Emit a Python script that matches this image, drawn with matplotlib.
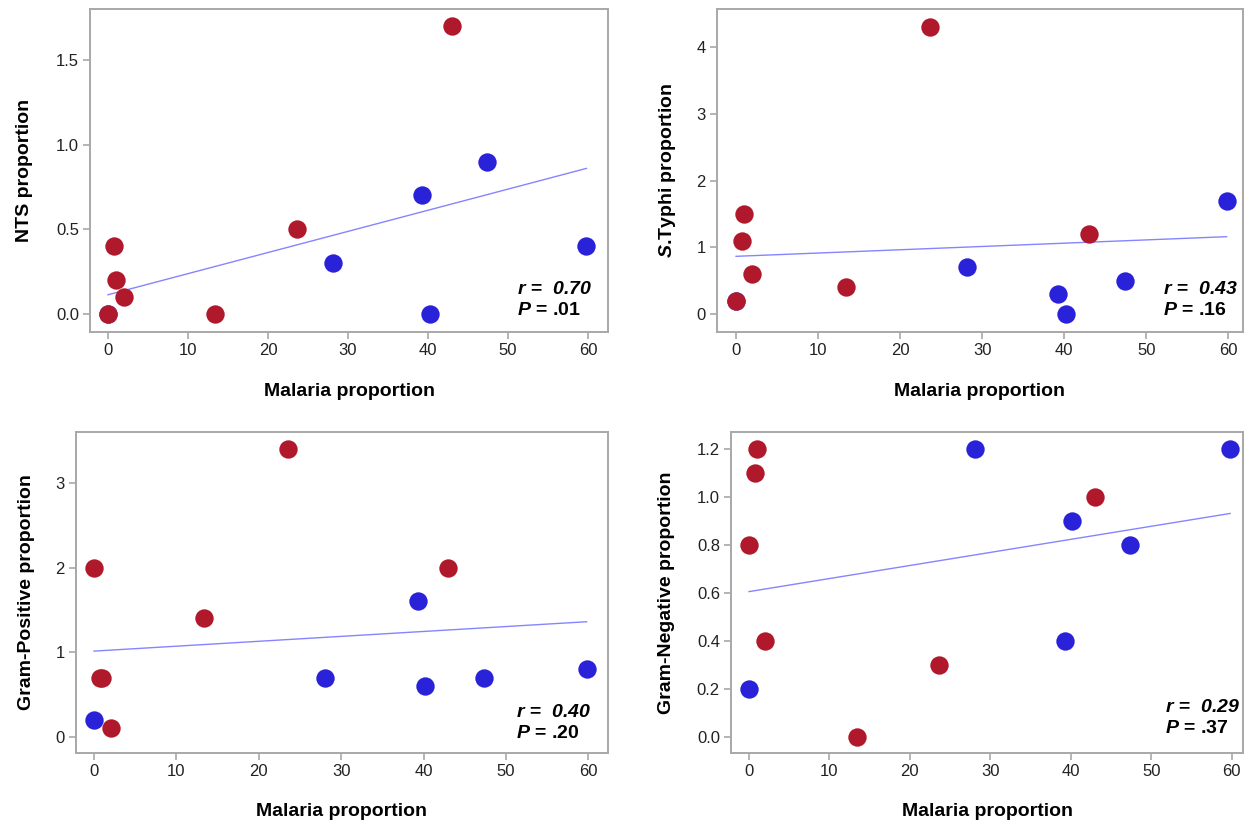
import numpy as np
import matplotlib
matplotlib.use("Agg")
import matplotlib.pyplot as plt

plt.rcParams['font.family'] = ['Liberation Sans', 'DejaVu Sans']
plt.rcParams['mathtext.fontset'] = 'custom'
plt.rcParams['mathtext.it'] = 'Liberation Sans:italic:bold'
plt.rcParams['mathtext.rm'] = 'Liberation Sans:italic:bold'
plt.rcParams['mathtext.bf'] = 'Liberation Sans:italic:bold'
plt.rcParams['mathtext.default'] = 'rm'

# Malaria proportion per site (red group, blue group)
malaria_red = [0.0, 0.7, 1.0, 2.0, 13.4, 23.6, 43.0]
malaria_blue = [0.0, 28.1, 39.3, 40.2, 47.4, 59.8]

nts_red = [0.0, 0.4, 0.2, 0.1, 0.0, 0.5, 1.7]
nts_blue = [0.0, 0.3, 0.7, 0.0, 0.9, 0.4]

typhi_red = [0.2, 1.1, 1.5, 0.6, 0.4, 4.3, 1.2]
typhi_blue = [0.2, 0.7, 0.3, 0.0, 0.5, 1.7]

gpos_red = [2.0, 0.7, 0.7, 0.1, 1.4, 3.4, 2.0]
gpos_blue = [0.2, 0.7, 1.6, 0.6, 0.7, 0.8]

gneg_red = [0.8, 1.1, 1.2, 0.4, 0.0, 0.3, 1.0]
gneg_blue = [0.2, 1.2, 0.4, 0.9, 0.8, 1.2]

y_labels = ['NTS proportion', r'$S$.Typhi proportion',
            'Gram-Positive proportion', 'Gram-Negative proportion']
r_values = ['0.70', '0.43', '0.40', '0.29']
p_values = ['.01', '.16', '.20', '.37']
x_label = 'Malaria proportion'

RED = '#b0182b'
BLUE = '#2a22d8'
LINE = '#8585ff'
SPINE = '#a8a8a8'

W, H = 1248, 824
fig = plt.figure(figsize=(W / 100, H / 100), dpi=100)

# frame pixel boxes (left, top, right, bottom)
boxes = [(90, 9, 608, 332), (717, 9, 1243, 332),
         (76, 432, 608, 753), (731, 432, 1243, 753)]
xlims = [(-2.25, 62.5), (-2.32, 61.8), (-2.19, 62.4), (-2.24, 61.4)]
ylims = [(-0.106, 1.80), (-0.27, 4.57), (-0.19, 3.60), (-0.067, 1.271)]
yticks = [[0.0, 0.5, 1.0, 1.5], [0, 1, 2, 3, 4], [0, 1, 2, 3],
          [0.0, 0.2, 0.4, 0.6, 0.8, 1.0, 1.2]]
yfmt = ['{:.1f}', '{:.0f}', '{:.0f}', '{:.1f}']
ylab_x = [-0.110, -0.075, -0.078, -0.109]
ann_pos = [(0.969, 0.099), (0.990, 0.099), (0.968, 0.093), (0.994, 0.109)]

reds = [nts_red, typhi_red, gpos_red, gneg_red]
blues = [nts_blue, typhi_blue, gpos_blue, gneg_blue]

for i in range(4):
    l, t, r, b = boxes[i]
    ax = fig.add_axes([l / W, 1 - b / H, (r - l) / W, (b - t) / H])
    ax.scatter(malaria_blue, blues[i], s=175, color=BLUE, linewidths=0, zorder=3)
    ax.scatter(malaria_red, reds[i], s=175, color=RED, linewidths=0, zorder=4)
    xs = np.array(malaria_red + malaria_blue)
    ys = np.array(reds[i] + blues[i])
    k, c = np.polyfit(xs, ys, 1)
    xx = np.array([xs.min(), xs.max()])
    ax.plot(xx, k * xx + c, color=LINE, lw=1.0, zorder=2)
    ax.set_xlim(*xlims[i])
    ax.set_ylim(*ylims[i])
    ax.set_xticks([0, 10, 20, 30, 40, 50, 60])
    ax.set_yticks(yticks[i])
    ax.set_yticklabels([yfmt[i].format(v) for v in yticks[i]])
    for s in ax.spines.values():
        s.set_color(SPINE)
        s.set_linewidth(1.4)
    ax.tick_params(direction='out', length=5, width=1.2, color=SPINE,
                   labelsize=12, labelcolor='#222222', pad=3)
    ax.set_xlabel(x_label, fontsize=14, fontweight='bold')
    ax.xaxis.set_label_coords(0.5, -0.157)
    ax.set_ylabel(y_labels[i], fontsize=14, fontweight='bold')
    ax.yaxis.set_label_coords(ylab_x[i], 0.5)
    ax.text(ann_pos[i][0], ann_pos[i][1],
            '$r$ =  $' + r_values[i] + '$\n$P$ = ' + p_values[i],
            transform=ax.transAxes, ha='right', va='center',
            multialignment='left', fontsize=14, fontweight='bold',
            linespacing=1.35, zorder=5)

fig.savefig('out.png', dpi=100, facecolor='white')
